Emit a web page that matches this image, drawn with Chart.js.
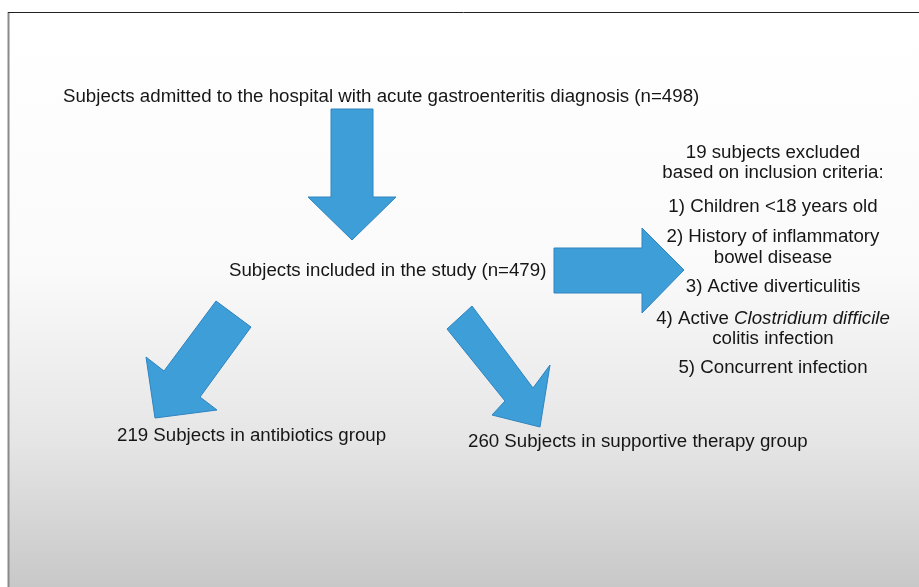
<!DOCTYPE html>
<html>
<head>
<meta charset="utf-8">
<script src="https://cdn.jsdelivr.net/npm/chart.js@4/dist/chart.umd.min.js"></script>
<style>
  html, body { margin: 0; padding: 0; background: #fff; }
  canvas { display: block; }
</style>
</head>
<body>
<canvas id="flow" width="919" height="587"></canvas>
<script>
// study flow numbers
const stageLabels = [
  'Subjects admitted to the hospital with acute gastroenteritis diagnosis',
  'Subjects included in the study',
  'Subjects in antibiotics group',
  'Subjects in supportive therapy group'
];
const stageCounts = [498, 479, 219, 260];
const excludedCount = 19;
const exclusionReasons = [
  ['1) Children <18 years old'],
  ['2) History of inflammatory', 'bowel disease'],
  ['3) Active diverticulitis'],
  ['4) Active |Clostridium difficile', 'colitis infection'],
  ['5) Concurrent infection']
];

// layout, in scale units (x 0..919, y 0..587 top-down)
const stagePos = [
  { x: 63, y: 97, align: 'left' },
  { x: 229, y: 271, align: 'left' },
  { x: 117, y: 436, align: 'left' },
  { x: 468, y: 442, align: 'left' }
];
const excludeX = 773;
const excludeY = [153, 173, 207, 237, 258, 287, 319, 339, 368];

const arrows = [
  // down
  [[331, 109], [373, 109], [373, 197], [396, 197], [352, 240], [308, 197], [331, 197]],
  // right
  [[554, 248], [642, 248], [642, 228], [684, 270], [642, 313], [642, 293], [554, 293]],
  // down-left
  [[216, 301], [251, 327], [200, 397], [217, 410], [155, 418], [146, 357], [164, 371]],
  // down-right
  [[447, 329], [472, 306], [533, 388], [550, 365], [540, 427], [492, 415], [505, 401]]
];

const FONT = '"Liberation Sans", Arial, sans-serif';
const SIZE = 18.7;
const TEXT = '#161616';

const flowPlugin = {
  id: 'flow',
  beforeDraw(chart) {
    const ctx = chart.ctx;
    const w = chart.width, h = chart.height;
    ctx.save();
    ctx.fillStyle = '#fff';
    ctx.fillRect(0, 0, w, h);
    const g = ctx.createLinearGradient(0, 12, 0, h);
    g.addColorStop(0, '#ffffff');
    g.addColorStop(0.45, '#fafafa');
    g.addColorStop(0.75, '#e5e5e5');
    g.addColorStop(1, '#c8c8c8');
    ctx.fillStyle = g;
    ctx.fillRect(9, 12, w - 9, h - 12);
    ctx.strokeStyle = '#8a8a8a';
    ctx.lineWidth = 2;
    ctx.beginPath();
    ctx.moveTo(8.5, 12);
    ctx.lineTo(8.5, h);
    ctx.stroke();
    ctx.strokeStyle = '#222';
    ctx.lineWidth = 1;
    ctx.beginPath();
    ctx.moveTo(8, 12.5);
    ctx.lineTo(w, 12.5);
    ctx.stroke();
    ctx.restore();
  },
  afterDatasetsDraw(chart) {
    const ctx = chart.ctx;
    const xs = chart.scales.x, ys = chart.scales.y;
    const px = v => xs.getPixelForValue(v);
    const py = v => ys.getPixelForValue(v);
    ctx.save();

    arrows.forEach(poly => {
      ctx.beginPath();
      poly.forEach((p, i) => {
        if (i === 0) ctx.moveTo(px(p[0]), py(p[1]));
        else ctx.lineTo(px(p[0]), py(p[1]));
      });
      ctx.closePath();
      ctx.fillStyle = '#3e9ed8';
      ctx.fill();
      ctx.strokeStyle = '#2f84c0';
      ctx.lineWidth = 1;
      ctx.stroke();
    });

    ctx.fillStyle = TEXT;
    ctx.textBaseline = 'middle';
    ctx.font = SIZE + 'px ' + FONT;

    stageLabels.forEach((lab, i) => {
      const p = stagePos[i];
      const txt = i < 2 ? lab + ' (n=' + stageCounts[i] + ')' : stageCounts[i] + ' ' + lab;
      ctx.textAlign = p.align;
      ctx.fillText(txt, px(p.x), py(p.y));
    });

    const lines = [excludedCount + ' subjects excluded', 'based on inclusion criteria:'];
    exclusionReasons.forEach(r => r.forEach(l => lines.push(l)));
    ctx.textAlign = 'left';
    lines.forEach((line, i) => {
      const parts = line.split('|');
      const fonts = parts.map((_, k) => (k === 1 ? 'italic ' : '') + SIZE + 'px ' + FONT);
      let total = 0;
      const widths = parts.map((t, k) => { ctx.font = fonts[k]; const m = ctx.measureText(t).width; total += m; return m; });
      let x = px(excludeX) - total / 2;
      parts.forEach((t, k) => {
        ctx.font = fonts[k];
        ctx.fillText(t, x, py(excludeY[i]));
        x += widths[k];
      });
    });
    ctx.restore();
  }
};

new Chart(document.getElementById('flow'), {
  type: 'scatter',
  data: {
    datasets: [{
      data: stagePos.map(p => ({ x: p.x, y: p.y })),
      pointRadius: 0,
      showLine: false
    }]
  },
  options: {
    responsive: false,
    animation: false,
    devicePixelRatio: 1,
    layout: { padding: 0 },
    plugins: { legend: { display: false }, tooltip: { enabled: false } },
    scales: {
      x: { type: 'linear', min: 0, max: 919, display: false },
      y: { type: 'linear', min: 0, max: 587, reverse: true, display: false }
    }
  },
  plugins: [flowPlugin]
});
</script>
</body>
</html>
